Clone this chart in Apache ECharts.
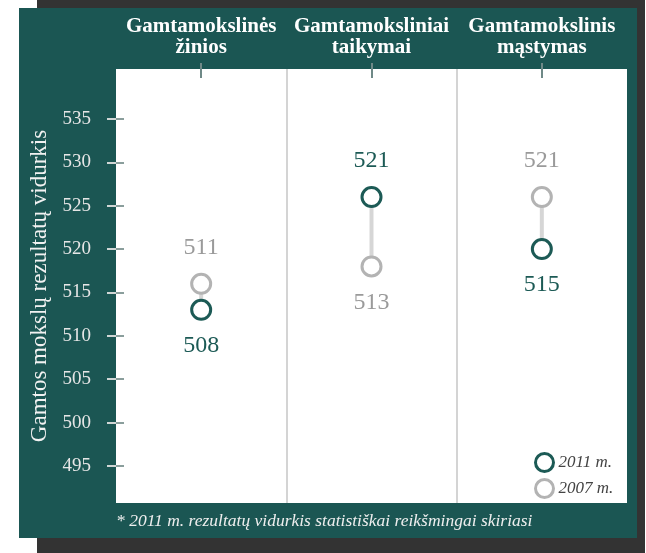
<!DOCTYPE html>
<html>
<head>
<meta charset="utf-8">
<script src="https://cdn.jsdelivr.net/npm/echarts@6/dist/echarts.min.js"></script>
<style>
  html, body { margin: 0; padding: 0; background: #fff; }
  #chart { width: 646px; height: 553px; }
</style>
</head>
<body>
<div id="chart"></div>
<script>
// kategorijos (stulpeliai)
const categories = ['Gamtamokslinės\nžinios', 'Gamtamoksliniai\ntaikymai', 'Gamtamokslinis\nmąstymas'];
// užrašyti vidurkiai
const scores2011 = [508, 521, 515];
const scores2007 = [511, 513, 521];
// taškų aukštis pagal ašį (originale taškai nubraižyti 5 balais aukščiau nei užrašas)
const plot2011 = [513, 526, 520];
const plot2007 = [516, 518, 526];
// y ašies padalos
const yTicks = [495, 500, 505, 510, 515, 520, 525, 530, 535];

const TEAL = '#1b5653';
const GREEN = '#1c5a55';
const GREY = '#b3b3b3';
const SERIF = '"Liberation Serif", "DejaVu Serif", serif';

const chart = echarts.init(document.getElementById('chart'));

// etiketė virš aukštesnio taško, po žemesniu
function pointData(own, other, scores) {
  return own.map((v, i) => ({
    value: [i, v],
    score: scores[i],
    label: { position: v >= other[i] ? 'top' : 'bottom' }
  }));
}

const option = {
  backgroundColor: '#fff',
  animation: false,
  graphic: [
    { type: 'rect', z: -10, shape: { x: 37, y: 0, width: 608, height: 553 }, style: { fill: '#333' } },
    { type: 'rect', z: -9, shape: { x: 19, y: 8, width: 618, height: 530 }, style: { fill: TEAL } },
    {
      type: 'text', left: 116, top: 512, z: 10,
      style: {
        text: '* 2011 m. rezultatų vidurkis statistiškai reikšmingai skiriasi',
        font: 'italic 17.5px ' + SERIF, fill: '#eeeeee'
      }
    }
  ],
  grid: {
    left: 116, right: 19, top: 69, bottom: 50,
    show: true, backgroundColor: '#fff', borderWidth: 0
  },
  legend: {
    orient: 'vertical',
    left: 534, top: 452, padding: 0,
    itemWidth: 18, itemHeight: 18, itemGap: 5,
    icon: 'circle',
    textStyle: { fontFamily: SERIF, fontStyle: 'italic', fontSize: 17, color: '#444' },
    data: [
      { name: '2011 m.', itemStyle: { color: '#fff', borderColor: GREEN, borderWidth: 3 } },
      { name: '2007 m.', itemStyle: { color: '#fff', borderColor: GREY, borderWidth: 3 } }
    ]
  },
  xAxis: [{
    type: 'category',
    position: 'top',
    data: categories,
    axisLine: { show: false },
    axisTick: { show: true, alignWithLabel: true, length: 6, lineStyle: { color: '#6f8987', width: 2 } },
    axisLabel: {
      interval: 0, hideOverlap: false,
      margin: 11, color: '#fff', fontFamily: SERIF, fontWeight: 'bold', fontSize: 21, lineHeight: 21
    },
    // tik vidinės skiriamosios linijos, kraštinės permatomos
    splitLine: {
      show: true,
      lineStyle: { color: ['rgba(0,0,0,0)', '#d4d4d4', '#d4d4d4', 'rgba(0,0,0,0)'], width: 2 }
    }
  }, {
    type: 'category',
    position: 'top',
    data: categories,
    axisLine: { show: false },
    axisTick: { show: true, inside: true, alignWithLabel: true, length: 9, lineStyle: { color: '#6f8987', width: 2 } },
    axisLabel: { show: false },
    splitLine: { show: false }
  }],
  yAxis: [{
    type: 'value',
    min: 490.73, max: 540.76,
    name: 'Gamtos mokslų rezultatų vidurkis',
    nameLocation: 'middle',
    nameGap: 62,
    nameTextStyle: { color: '#f2f2f2', fontFamily: SERIF, fontSize: 23 },
    axisLine: { show: false },
    axisTick: { show: true, length: 9, customValues: yTicks, lineStyle: { color: '#d0d6d5', width: 2 } },
    axisLabel: {
      customValues: yTicks, margin: 25, color: '#e6e6e6', fontFamily: SERIF, fontSize: 19
    },
    splitLine: { show: false }
  }, {
    type: 'value',
    position: 'left',
    min: 490.73, max: 540.76,
    axisLine: { show: false },
    axisTick: { show: true, inside: true, length: 8, customValues: yTicks, lineStyle: { color: '#8a9e9c', width: 2 } },
    axisLabel: { show: false },
    splitLine: { show: false }
  }],
  series: [{
    type: 'custom',
    name: 'jungtis',
    z: 1,
    data: categories.map((c, i) => [i, plot2011[i], plot2007[i]]),
    renderItem: function (params, api) {
      const a = api.coord([api.value(0), api.value(1)]);
      const b = api.coord([api.value(0), api.value(2)]);
      return {
        type: 'line',
        shape: { x1: a[0], y1: a[1], x2: b[0], y2: b[1] },
        style: { stroke: '#d6d6d6', lineWidth: 4 }
      };
    }
  }, {
    type: 'scatter',
    name: '2007 m.',
    z: 3,
    symbol: 'circle',
    symbolSize: 19,
    itemStyle: { color: '#fff', borderColor: GREY, borderWidth: 3, opacity: 1 },
    label: {
      show: true, distance: 13, color: '#9a9a9a', fontFamily: SERIF, fontSize: 24,
      formatter: p => p.data.score
    },
    data: pointData(plot2007, plot2011, scores2007)
  }, {
    type: 'scatter',
    name: '2011 m.',
    z: 4,
    symbol: 'circle',
    symbolSize: 19,
    itemStyle: { color: '#fff', borderColor: GREEN, borderWidth: 3, opacity: 1 },
    label: {
      show: true, distance: 13, color: GREEN, fontFamily: SERIF, fontSize: 24,
      formatter: p => p.data.score
    },
    data: pointData(plot2011, plot2007, scores2011)
  }]
};

chart.setOption(option);
</script>
</body>
</html>
